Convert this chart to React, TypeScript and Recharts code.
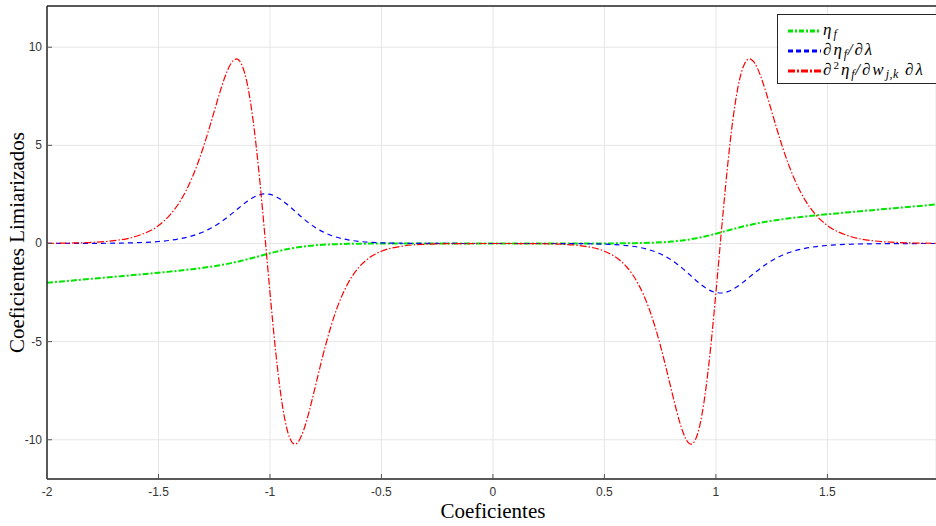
import React from 'react';
import { LineChart, Line, XAxis, YAxis, CartesianGrid, ReferenceLine, Legend, Label } from 'recharts';

// coeficiente de entrada (eixo x)
const coefs = [
  -2, -1.9, -1.8, -1.7, -1.6, -1.5, -1.45, -1.4, -1.35, -1.3, -1.275, -1.25, -1.225, -1.2, -1.175,
  -1.15, -1.125, -1.1, -1.075, -1.05, -1.025, -1, -0.975, -0.95, -0.925, -0.9, -0.8875, -0.875,
  -0.85, -0.825, -0.8, -0.775, -0.75, -0.725, -0.7, -0.65, -0.6, -0.55, -0.5, -0.4, -0.3, -0.2, -0.1,
  0,
  0.1, 0.2, 0.3, 0.4, 0.5, 0.55, 0.6, 0.65, 0.7, 0.725, 0.75, 0.775, 0.8, 0.825, 0.85, 0.875,
  0.8875, 0.9, 0.925, 0.95, 0.975, 1, 1.025, 1.05, 1.075, 1.1, 1.125, 1.15, 1.175, 1.2, 1.225,
  1.25, 1.275, 1.3, 1.35, 1.4, 1.45, 1.5, 1.6, 1.7, 1.8, 1.9, 2,
];

// eta_f
const etaF = [
  -2.0, -1.9, -1.799, -1.698, -1.596, -1.49, -1.4341, -1.3748, -1.3104, -1.2383, -1.1984, -1.1552,
  -1.1082, -1.057, -1.001, -0.9402, -0.8745, -0.8042, -0.7301, -0.6536, -0.5762, -0.5, -0.4269,
  -0.3587, -0.2968, -0.242, -0.2175, -0.1949, -0.1551, -0.1221, -0.0954, -0.0739, -0.0569, -0.0436,
  -0.0332, -0.0191, -0.0108, -0.006, -0.0033, -0.001, -0.0003, -0.0001, 0,
  0,
  0, 0.0001, 0.0003, 0.001, 0.0033, 0.006, 0.0108, 0.0191, 0.0332, 0.0436, 0.0569, 0.0739, 0.0954,
  0.1221, 0.1551, 0.1949, 0.2175, 0.242, 0.2968, 0.3587, 0.4269, 0.5, 0.5762, 0.6536, 0.7301,
  0.8042, 0.8745, 0.9402, 1.001, 1.057, 1.1082, 1.1552, 1.1984, 1.2383, 1.3104, 1.3748, 1.4341,
  1.49, 1.596, 1.698, 1.799, 1.9, 2.0,
];

// d eta_f / d lambda
const dEtaDLambda = [
  0.0009, 0.0023, 0.006, 0.0155, 0.0395, 0.0997, 0.1576, 0.2473, 0.3841, 0.5873, 0.7201, 0.8763,
  1.0567, 1.2599, 1.482, 1.7152, 1.9474, 2.1627, 2.3423, 2.4675, 2.5229, 2.5, 2.3999, 2.2325,
  2.0155, 1.7695, 1.6421, 1.5146, 1.2678, 1.0406, 0.84, 0.6685, 0.5258, 0.4095, 0.316, 0.185,
  0.106, 0.0598, 0.0332, 0.0099, 0.0027, 0.0007, 0.0001,
  0,
  -0.0001, -0.0007, -0.0027, -0.0099, -0.0332, -0.0598, -0.106, -0.185, -0.316, -0.4095, -0.5258,
  -0.6685, -0.84, -1.0406, -1.2678, -1.5146, -1.6421, -1.7695, -2.0155, -2.2325, -2.3999, -2.5,
  -2.5229, -2.4675, -2.3423, -2.1627, -1.9474, -1.7152, -1.482, -1.2599, -1.0567, -0.8763,
  -0.7201, -0.5873, -0.3841, -0.2473, -0.1576, -0.0997, -0.0395, -0.0155, -0.006, -0.0023, -0.0009,
];

// d2 eta_f / (d w_jk d lambda)
const d2Eta = [
  0.0086, 0.022, 0.057, 0.145, 0.368, 0.917, 1.432, 2.207, 3.332, 4.864, 5.771, 6.732, 7.689,
  8.545, 9.171, 9.403, 9.069, 8.028, 6.215, 3.693, 0.676, -2.5, -5.446, -7.818, -9.402, -10.143,
  -10.222, -10.131, -9.544, -8.586, -7.447, -6.273, -5.161, -4.167, -3.314, -2.0256, -1.1983,
  -0.6931, -0.3944, -0.1229, -0.0364, -0.01, -0.0025,
  -0.0005,
  -0.0025, -0.01, -0.0364, -0.1229, -0.3944, -0.6931, -1.1983, -2.0256, -3.314, -4.167, -5.161,
  -6.273, -7.447, -8.586, -9.544, -10.131, -10.222, -10.143, -9.402, -7.818, -5.446, -2.5, 0.676,
  3.693, 6.215, 8.028, 9.069, 9.403, 9.171, 8.545, 7.689, 6.732, 5.771, 4.864, 3.332, 2.207,
  1.432, 0.917, 0.368, 0.145, 0.057, 0.022, 0.0086,
];

const xTicks = [-2, -1.5, -1, -0.5, 0, 0.5, 1, 1.5];
const yTicks = [-10, -5, 0, 5, 10];

const data = coefs.map((x, i) => ({ x, eta: etaF[i], dEta: dEtaDLambda[i], d2Eta: d2Eta[i] }));

const GREEN = '#00e600';
const BLUE = '#0000ff';
const RED = '#ff0000';
const AXIS = '#262626';
const SERIF = '"Liberation Serif", "Times New Roman", serif';
const TICK_FONT = { fontFamily: '"Liberation Sans", Arial, sans-serif', fontSize: 12, fill: '#333' };

const XTick = ({ x, y, payload }: any) => (
  <g>
    <line x1={x} x2={x} y1={y - 6} y2={y - 11} stroke="#555" />
    <text x={x} y={y} dy={11} textAnchor="middle" {...TICK_FONT}>{payload.value}</text>
  </g>
);

const YTick = ({ x, y, payload }: any) => (
  <g>
    <line x1={x + 5} x2={x + 10} y1={y} y2={y} stroke="#555" />
    <text x={x} y={y} dy={4} textAnchor="end" {...TICK_FONT}>{payload.value}</text>
  </g>
);

const Sub = ({ children }: { children: React.ReactNode }) => (
  <span style={{ fontSize: 12, position: 'relative', top: 3, letterSpacing: 0.5 }}>{children}</span>
);
const Sup = ({ children }: { children: React.ReactNode }) => (
  <span style={{ fontSize: 11, position: 'relative', top: -6, fontStyle: 'normal' }}>{children}</span>
);

const legendItems = [
  { color: GREEN, dash: '5 2 2 2', label: <>η<Sub>f</Sub></> },
  { color: BLUE, dash: '5 3', label: <>∂η<Sub>f</Sub>/∂λ</> },
  { color: RED, dash: '7 2 2 2', label: <>∂<Sup>2</Sup>η<Sub>f</Sub>/∂w<Sub>j,k</Sub> ∂λ</> },
];

const LegendBox = () => (
  <div
    style={{
      background: '#fff',
      border: `1.5px solid ${AXIS}`,
      borderRight: 'none',
      padding: '6px 0 2px 10px',
      fontFamily: SERIF,
      fontStyle: 'italic',
      fontSize: 17,
      letterSpacing: 2,
      whiteSpace: 'nowrap',
      overflow: 'hidden',
    }}
  >
    {legendItems.map((it, i) => (
      <div key={i} style={{ display: 'flex', alignItems: 'center', height: 20 }}>
        <svg width={33} height={6} style={{ marginRight: 2, flex: 'none' }}>
          <line x1={0} x2={33} y1={3} y2={3} stroke={it.color} strokeWidth={3} strokeDasharray={it.dash} />
        </svg>
        <span style={{ lineHeight: 1, position: 'relative', top: -2 }}>{it.label}</span>
      </div>
    ))}
  </div>
);

const App: React.FC = () => {
  return (
    <div
      style={{
        position: 'fixed',
        left: 0,
        top: 0,
        width: 936,
        height: 526,
        overflow: 'hidden',
        background: '#fff',
      }}
    >
      <LineChart width={936} height={526} data={data} margin={{ top: 6, right: 0, bottom: 0, left: 0 }}>
        <CartesianGrid stroke="#e6e6e6" />
        <XAxis
          dataKey="x"
          type="number"
          domain={[-2, 1.987]}
          ticks={xTicks}
          interval={0}
          allowDataOverflow
          height={47}
          tickSize={0}
          tickMargin={6}
          tickLine={false}
          axisLine={{ stroke: AXIS, strokeWidth: 1.5 }}
          tick={<XTick />}
        >
          <Label
            content={({ viewBox }: any) => (
              <text
                x={viewBox.x + (viewBox.width * 2) / 3.987}
                y={viewBox.y + 39}
                textAnchor="middle"
                fontFamily={SERIF}
                fontSize={21}
                fill="#000"
              >
                Coeficientes
              </text>
            )}
          />
        </XAxis>
        <YAxis
          type="number"
          domain={[-12, 12.1]}
          ticks={yTicks}
          interval={0}
          allowDataOverflow
          width={47}
          tickSize={0}
          tickMargin={5}
          tickLine={false}
          axisLine={{ stroke: AXIS, strokeWidth: 1.5 }}
          tick={<YTick />}
        >
          <Label
            content={({ viewBox }: any) => {
              const cx = viewBox.x + 17;
              const cy = viewBox.y + viewBox.height / 2;
              return (
                <text
                  x={cx}
                  y={cy}
                  transform={`rotate(-90 ${cx} ${cy})`}
                  textAnchor="middle"
                  dominantBaseline="central"
                  fontFamily={SERIF}
                  fontSize={21}
                  fill="#000"
                >
                  Coeficientes Limiarizados
                </text>
              );
            }}
          />
        </YAxis>
        <ReferenceLine y={12.1} stroke={AXIS} strokeWidth={1.5} />
        <Legend
          layout="vertical"
          align="center"
          verticalAlign="middle"
          content={<LegendBox />}
          wrapperStyle={{ top: 14, left: 777, right: 0, width: 'auto', bottom: 'auto' }}
        />
        <Line
          type="monotone"
          dataKey="eta"
          stroke={GREEN}
          strokeWidth={2}
          strokeDasharray="6 2 2 2"
          dot={false}
          activeDot={false}
          isAnimationActive={false}
        />
        <Line
          type="monotone"
          dataKey="dEta"
          stroke={BLUE}
          strokeWidth={1.2}
          strokeDasharray="5 4"
          dot={false}
          activeDot={false}
          isAnimationActive={false}
        />
        <Line
          type="monotone"
          dataKey="d2Eta"
          stroke={RED}
          strokeWidth={1.2}
          strokeDasharray="7 2 1.5 2"
          dot={false}
          activeDot={false}
          isAnimationActive={false}
        />
      </LineChart>
    </div>
  );
};

export default App;
